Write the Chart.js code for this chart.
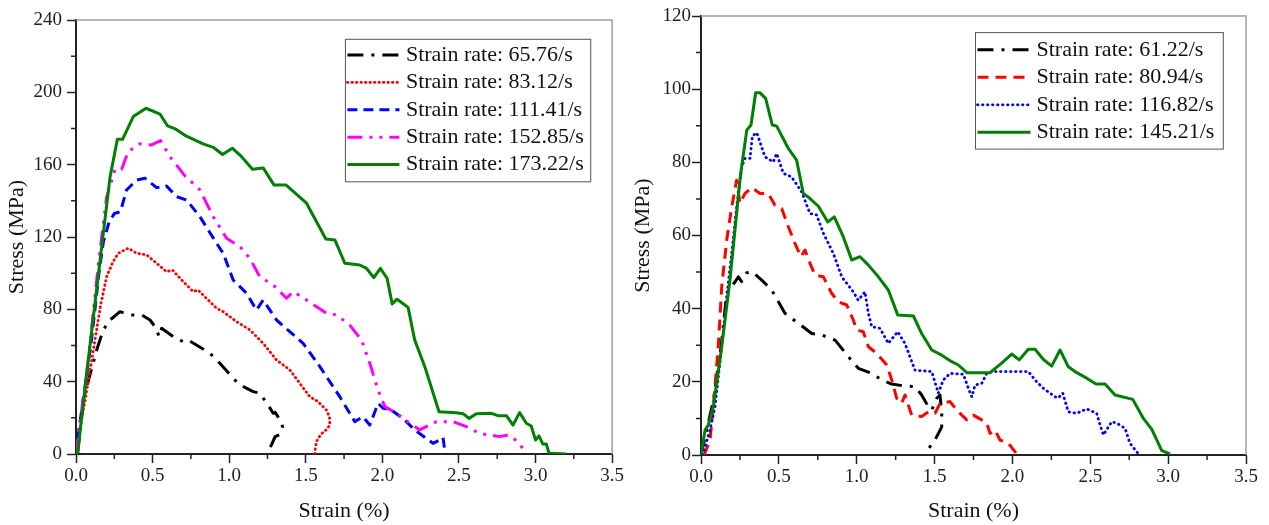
<!DOCTYPE html>
<html><head><meta charset="utf-8">
<script src="https://cdn.jsdelivr.net/npm/chart.js@4.4.1/dist/chart.umd.min.js"></script>
<style>
html,body{margin:0;padding:0;background:#fff;width:1269px;height:525px;overflow:hidden}
#cl{position:absolute;left:0;top:0}
#cr{position:absolute;left:626px;top:0}
</style></head><body>
<canvas id="cl" width="626" height="525"></canvas>
<canvas id="cr" width="643" height="525"></canvas>
<script>
// ---------- tick labels ----------
const xTickLabels = ['0.0','0.5','1.0','1.5','2.0','2.5','3.0','3.5'];
const yTickLabelsLeft = ['0','40','80','120','160','200','240'];
const yTickLabelsRight = ['0','20','40','60','80','100','120'];

// ---------- left panel series (strain %, stress MPa) ----------
const labelsLeft = ['Strain rate: 65.76/s','Strain rate: 83.12/s','Strain rate: 111.41/s','Strain rate: 152.85/s','Strain rate: 173.22/s'];

const L1x = [0.01,0.05,0.10,0.135,0.178,0.222,0.287,0.352,0.428,0.483,0.52,0.543,0.559,0.635,0.70,0.733,0.874,0.939,1.026,1.07,1.157,1.20,1.254,1.287,1.30,1.342,1.348,1.331,1.30,1.276,1.265];
const L1y = [0,31,46.5,57.5,68.6,74.1,78.7,76.9,76.9,74.1,70,64.9,69.5,64.9,62.1,63,55.7,50.2,41.9,38.2,34.5,33.6,27.1,22.5,23,17.5,15,10.8,9.6,5,3.5];

const L2x = [0.0,0.026,0.06,0.105,0.16,0.20,0.24,0.276,0.341,0.396,0.461,0.526,0.591,0.63,0.70,0.765,0.796,0.874,0.918,0.961,1.048,1.135,1.222,1.309,1.396,1.461,1.526,1.581,1.635,1.655,1.657,1.635,1.60,1.57,1.562,1.559];
const L2y = [0,14,30,53,82,98,106,111,113.8,111,110.1,105.5,100.8,101.7,95.3,89.8,90.7,84.2,80.6,78.7,73.2,68.6,61.2,52,46.5,39.1,31.7,28.9,24.3,20.5,16,13.5,11,7,3,0];

const L3x = [0.0,0.01,0.10,0.15,0.178,0.215,0.25,0.29,0.33,0.396,0.45,0.526,0.591,0.657,0.722,0.809,0.918,0.961,1.026,1.113,1.178,1.222,1.309,1.483,1.592,1.635,1.722,1.82,1.874,1.918,1.972,2.005,2.059,2.135,2.211,2.331,2.374,2.396,2.407,2.418];
const L3y = [0,8,62,100,117,128,133,134,146,151.5,152.5,147.3,148.2,142.3,140.5,131.2,116.5,111,96.2,88.9,79.6,85.2,74.1,61.2,48.3,42.8,31.7,17.9,20.6,16,28,25.3,24.3,19.7,13.3,5.9,7.7,9.2,2.2,0];

const L4x = [0.0,0.08,0.15,0.20,0.255,0.298,0.341,0.417,0.494,0.552,0.613,0.711,0.776,0.809,0.896,0.983,1.07,1.135,1.20,1.287,1.374,1.418,1.505,1.635,1.70,1.787,1.864,1.918,1.972,2.016,2.092,2.179,2.244,2.353,2.461,2.549,2.635,2.766,2.82,2.885,2.94];
const L4y = [0,52,108,142,157.5,157.5,167.2,171.5,170.9,173.3,164.4,153.8,148.8,146,131.2,119.3,114.7,108.2,98,93.5,86.1,89.8,85.2,77.8,76.9,71.3,63.1,50.2,35.4,26.2,22.5,17,13.3,17.9,17.9,15.1,11.4,9.6,10.5,6.8,0.4];

const L5x = [0.01,0.08,0.157,0.222,0.27,0.304,0.374,0.457,0.548,0.598,0.652,0.718,0.83,0.896,0.957,1.02,1.081,1.152,1.222,1.292,1.37,1.505,1.631,1.69,1.755,1.853,1.896,1.944,1.987,2.031,2.064,2.096,2.168,2.211,2.277,2.37,2.483,2.527,2.566,2.614,2.711,2.755,2.81,2.853,2.896,2.94,2.972,3.0,3.022,3.048,3.07,3.088,3.2];
const L5y = [0,52,107,153,174,174,186.6,191.2,188,181.4,179.6,175.9,171.5,169.6,165.6,169.1,164.4,157.5,158.2,148.8,148.8,138.7,118.9,118.4,105.5,104.5,102.7,97.5,102.7,97.2,83,85.6,81.1,63.1,48.3,23.4,22.8,22.3,19.7,22.3,22.5,21.2,21.2,16,22.9,17,15.5,7.7,10,5.5,5.5,0.4,0];

// ---------- right panel series ----------
const labelsRight = ['Strain rate: 61.22/s','Strain rate: 80.94/s','Strain rate: 116.82/s','Strain rate: 145.21/s'];

const R1x = [0.0,0.08,0.13,0.165,0.197,0.24,0.261,0.294,0.33,0.39,0.454,0.54,0.625,0.711,0.775,0.861,0.946,1.01,1.096,1.161,1.225,1.299,1.374,1.417,1.46,1.482,1.514,1.535,1.546,1.546,1.503,1.439];
const R1y = [0,15,30,44.2,46,48.7,47.4,49.8,50.1,47.8,45.1,38.7,36,33.2,32.8,31.4,26.9,23.7,22.3,20.5,19.4,18.9,18.7,16.4,13.2,12.3,15.5,16.4,11.4,7.7,4.1,0.5];

const R2x = [0.02,0.058,0.079,0.111,0.133,0.165,0.197,0.229,0.25,0.283,0.326,0.379,0.432,0.475,0.518,0.561,0.604,0.642,0.668,0.70,0.732,0.786,0.839,0.882,0.936,0.978,1.0,1.042,1.075,1.128,1.193,1.225,1.257,1.289,1.31,1.353,1.417,1.46,1.503,1.535,1.599,1.653,1.707,1.749,1.803,1.835,1.856,1.888,1.92,1.974,2.028];
const R2y = [0,4.1,13.2,29.6,46,58.7,67.8,75.1,68.8,71.5,73.1,71.5,71.5,68.3,67.4,62.4,57.8,54.2,56,52.4,49.2,48.7,44.2,41.9,41,36.9,34.2,33.7,29.6,27.8,24.6,20.5,15.5,14.1,16.4,10.9,10.5,11.8,11.4,14.1,14.6,11.8,9.6,10.9,9.6,8.7,5.9,6.8,4.1,3.2,0.3];

const R3x = [0.01,0.058,0.09,0.133,0.165,0.197,0.229,0.261,0.283,0.315,0.33,0.358,0.411,0.464,0.486,0.529,0.582,0.647,0.70,0.743,0.786,0.85,0.904,0.978,1.01,1.053,1.075,1.096,1.15,1.203,1.263,1.31,1.374,1.482,1.524,1.556,1.599,1.685,1.717,1.739,1.76,1.803,1.835,1.877,2.102,2.156,2.199,2.274,2.295,2.323,2.359,2.413,2.477,2.541,2.563,2.584,2.638,2.67,2.723,2.755,2.809];
const R3y = [0,6.8,13.2,29.6,43.3,55.1,67.8,78.8,81.1,81.1,87.2,88.1,81.5,80.1,82.4,77,76,71.9,66,65.6,60.6,55.1,48.7,44.6,42.3,44.6,38.7,35.1,34.6,30.5,33.7,30.5,23.2,22.8,16.9,20.5,22.3,22.1,18.2,15.9,19.1,19.6,22.3,22.8,22.8,20,18.2,15.9,15.6,16.9,11.8,11.4,12.6,11.4,8.2,5.5,9.1,8.7,7.3,3.2,0.3];

const R4x = [0.0,0.026,0.047,0.079,0.133,0.186,0.25,0.261,0.294,0.321,0.351,0.379,0.415,0.458,0.486,0.561,0.614,0.657,0.70,0.754,0.814,0.856,0.914,0.968,1.021,1.075,1.139,1.203,1.263,1.364,1.417,1.482,1.546,1.61,1.653,1.707,1.856,1.931,1.995,2.044,2.102,2.145,2.199,2.252,2.306,2.359,2.413,2.477,2.537,2.595,2.659,2.773,2.841,2.895,2.959,3.012];
const R4y = [0,6.8,8.2,13.2,29.6,47.8,75.1,78.8,88.8,90.2,99,99,97.5,90.2,89.9,83.8,80.6,71.5,70.1,68,63.7,65.1,59.6,53.3,54.2,51.9,48.7,45.1,38.3,38,33.2,28.7,27.3,25.5,24.6,22.5,22.5,25.1,27.6,26,28.9,28.9,26.1,24.3,28.7,24.1,22.5,21,19.4,19.4,16.4,15.2,10,7,1.2,0.3];

// ---------- helpers ----------
const FONT = '"Liberation Serif", "Times New Roman", serif';
const pts = (xs, ys) => xs.map((v, i) => ({x: v, y: ys[i]}));

function ds(label, xs, ys, color, dash, cap, width, order) {
  return {label, data: pts(xs, ys), borderColor: color, backgroundColor: color,
    borderWidth: width, borderDash: dash, borderCapStyle: cap, borderJoinStyle: 'round',
    pointRadius: 0, tension: 0, fill: false, showLine: true, order};
}

const decor = {
  id: 'decor',
  afterDraw(chart, args, o) {
    const {ctx, chartArea: a, scales: {x, y}} = chart;
    ctx.save();
    // top and right frame
    ctx.strokeStyle = '#a0a0a0'; ctx.lineWidth = 1.5; ctx.setLineDash([]);
    ctx.beginPath(); ctx.moveTo(a.left, a.top); ctx.lineTo(a.right, a.top); ctx.lineTo(a.right, a.bottom); ctx.stroke();
    // minor ticks
    ctx.strokeStyle = '#222'; ctx.lineWidth = 1.5;
    ctx.beginPath();
    for (let v = o.xMinor; v < x.max; v += o.xMinor * 2) {
      const p = x.getPixelForValue(v); ctx.moveTo(p, a.bottom); ctx.lineTo(p, a.bottom + 5);
    }
    for (let v = o.yMinor; v < y.max; v += o.yMinor * 2) {
      const p = y.getPixelForValue(v); ctx.moveTo(a.left, p); ctx.lineTo(a.left - 5, p);
    }
    ctx.stroke();
    // legend box
    const L = o.legend;
    const sets = chart.data.datasets;
    ctx.font = '22px ' + FONT;
    const tw = Math.max(...sets.map(d => ctx.measureText(d.label).width));
    const bw = 2 + L.lineW + L.gap + tw + L.padR;
    const bh = L.padT + L.rowH * sets.length + L.padB;
    const bx = a.right - L.insetR - bw, by = a.top + L.insetT;
    ctx.strokeStyle = '#555'; ctx.lineWidth = 1;
    ctx.strokeRect(bx, by, bw, bh);
    sets.forEach((d, i) => {
      const cy = by + L.padT + L.rowH * (i + 0.5);
      ctx.setLineDash(d.borderDash || []);
      ctx.lineCap = d.borderCapStyle || 'butt';
      ctx.strokeStyle = d.borderColor; ctx.lineWidth = d.borderWidth;
      ctx.beginPath(); ctx.moveTo(bx + 2, cy); ctx.lineTo(bx + 2 + L.lineW, cy); ctx.stroke();
      ctx.setLineDash([]);
      ctx.fillStyle = '#111'; ctx.textBaseline = 'middle'; ctx.textAlign = 'left';
      ctx.fillText(d.label, bx + 2 + L.lineW + L.gap, cy);
    });
    ctx.restore();
  }
};

function opts(c) {
  return {
    responsive: false, animation: false, devicePixelRatio: 1,
    layout: {padding: {left: 0, top: c.top, right: c.right, bottom: 0}},
    plugins: {legend: {display: false}, tooltip: {enabled: false},
      decor: {xMinor: 0.25, yMinor: c.yMinor, legend: c.legend}},
    scales: {
      x: {type: 'linear', min: 0, max: 3.5,
        ticks: {stepSize: 0.5, padding: 2, color: '#222', font: {family: FONT, size: 19},
          maxRotation: 0, autoSkip: false, callback: (v, i) => xTickLabels[i]},
        grid: {display: true, drawOnChartArea: false, drawTicks: true, tickLength: 9, tickColor: '#222', tickWidth: 1.5},
        border: {display: true, color: '#222', width: 2},
        title: {display: true, text: 'Strain (%)', color: '#111', font: {family: FONT, size: 22}, padding: {top: 0, bottom: 1}},
        afterFit: s => { s.height = c.xh; }
      },
      y: {type: 'linear', min: 0, max: c.ymax,
        ticks: {stepSize: c.ystep, padding: c.ypad, color: '#222', font: {family: FONT, size: 19},
          autoSkip: false, callback: (v, i) => c.ylabels[i]},
        grid: {display: true, drawOnChartArea: false, drawTicks: true, tickLength: 9, tickColor: '#222', tickWidth: 1.5},
        border: {display: true, color: '#222', width: 2},
        title: {display: true, text: 'Stress (MPa)', color: '#111', font: {family: FONT, size: 22}, padding: {top: 4, bottom: 0}},
        afterFit: s => { s.width = c.yw; }
      }
    }
  };
}

new Chart(document.getElementById('cl'), {
  type: 'scatter',
  data: {datasets: [
    ds(labelsLeft[0], L1x, L1y, '#000000', [16, 8, 3, 8], 'butt', 3, 4),
    ds(labelsLeft[1], L2x, L2y, '#ff0000', [0.5, 4], 'round', 2.8, 3),
    ds(labelsLeft[2], L3x, L3y, '#0000ff', [10, 6], 'butt', 3, 2),
    ds(labelsLeft[3], L4x, L4y, '#ff00ff', [15, 7, 3, 7, 3, 7], 'butt', 3, 1),
    ds(labelsLeft[4], L5x, L5y, '#008000', [], 'butt', 3, 0)
  ]},
  options: opts({top: 20, right: 13.3, xh: 71, yw: 76, ymax: 240, ystep: 40, ypad: 5, yMinor: 20,
    ylabels: yTickLabelsLeft,
    legend: {lineW: 52, gap: 6.5, padR: 7, padT: 2, padB: 3.5, rowH: 27.4, insetR: 21.4, insetT: 19.3}}),
  plugins: [decor]
});

new Chart(document.getElementById('cr'), {
  type: 'scatter',
  data: {datasets: [
    ds(labelsRight[0], R1x, R1y, '#000000', [16, 8, 3, 8], 'butt', 3, 3),
    ds(labelsRight[1], R2x, R2y, '#ff0000', [11, 7], 'butt', 3, 2),
    ds(labelsRight[2], R3x, R3y, '#0000ff', [0.5, 4.5], 'round', 2.8, 1),
    ds(labelsRight[3], R4x, R4y, '#008000', [], 'butt', 3, 0)
  ]},
  options: opts({top: 16, right: 23, xh: 70, yw: 75, ymax: 120, ystep: 20, ypad: 1, yMinor: 10,
    ylabels: yTickLabelsRight,
    legend: {lineW: 53, gap: 6, padR: 9, padT: 3.5, padB: 3, rowH: 27.5, insetR: 22.7, insetT: 16.6}}),
  plugins: [decor]
});
</script>
</body></html>
